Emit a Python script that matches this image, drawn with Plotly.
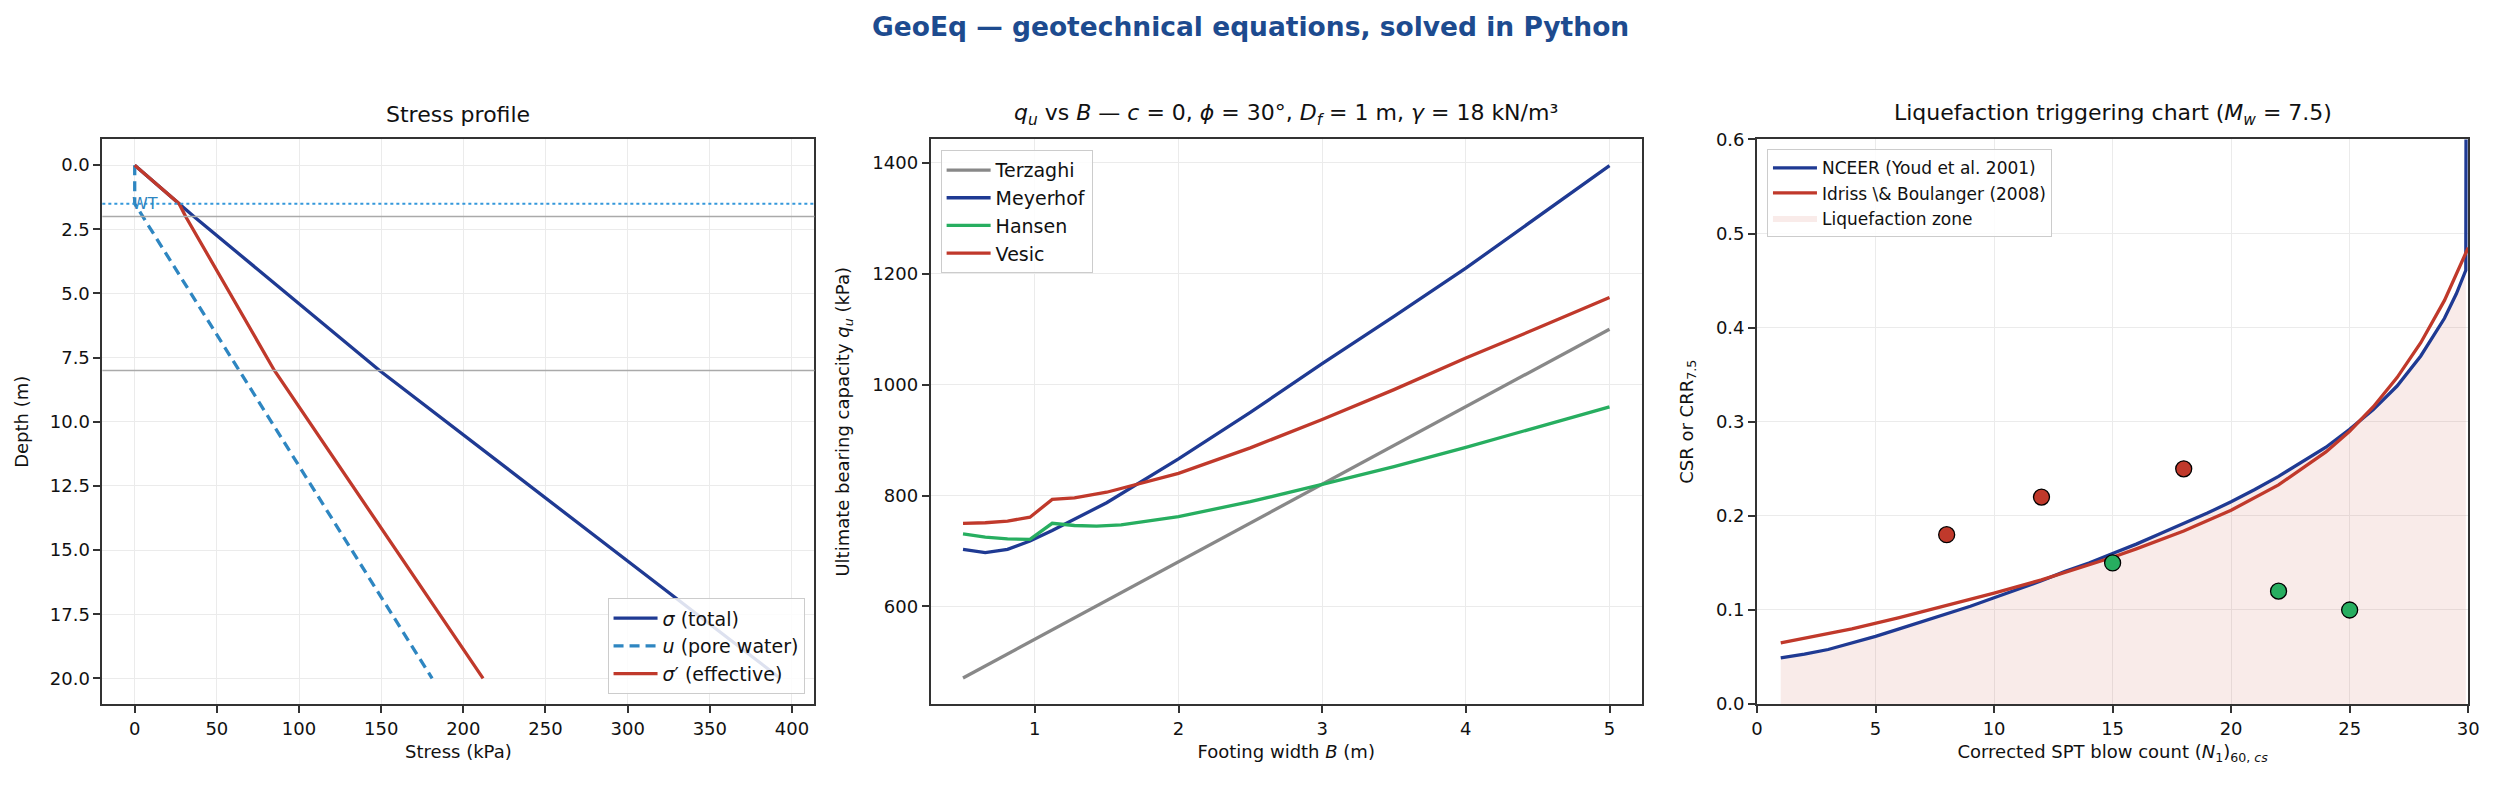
import plotly.graph_objects as go

# ---------------- data ----------------
# Panel 1: stress profile
z_total = [0, 2, 8, 20]
sigma_total = [0, 36, 149, 393]
z_pore = [0, 1.5, 20]
u_pore = [0, 0, 181]
z_eff = [0, 1.5, 2, 8, 20]
sigma_eff = [0, 27, 31, 85, 212]
wt_depth = 1.5
layer_bounds = [2.0, 8.0]

# Panel 2: bearing capacity vs width
B_terz = [0.5, 5.0]
q_terz = [471, 1100]
B_grid = [0.5, 0.655, 0.81, 0.966, 1.121, 1.276, 1.5, 2.0, 2.5, 3.0, 3.5, 4.0, 4.5, 5.0]
q_meyer = [703, 697, 703, 718, 737, 758, 787, 866, 950, 1038, 1123, 1210, 1302, 1395]
q_vesic = [750, 751, 754, 761, 793, 796, 806, 840, 886, 937, 991, 1048, 1102, 1157]
B_hansen = [0.5, 0.655, 0.81, 0.966, 1.121, 1.276, 1.43, 1.6, 2.0, 2.5, 3.0, 3.5, 4.0, 4.5, 5.0]
q_hansen = [731, 725, 722, 721, 750, 746, 745, 747, 762, 789, 820, 852, 887, 923, 960]

# Panel 3: liquefaction triggering
N_nceer = [1, 2, 3, 4, 5, 6, 7, 8, 9, 10, 11, 12, 13, 14, 15, 16, 17, 18, 19, 20,
           21, 22, 23, 24, 25, 26, 27, 28, 29, 29.5, 29.9, 30]
crr_nceer = [0.049, 0.053, 0.058, 0.065, 0.072, 0.080, 0.088, 0.096, 0.104, 0.113,
             0.122, 0.131, 0.141, 0.150, 0.160, 0.170, 0.181, 0.192, 0.203, 0.215,
             0.228, 0.242, 0.257, 0.273, 0.292, 0.313, 0.338, 0.370, 0.410, 0.436,
             0.461, 2.0]
N_ib = [1, 2, 4, 6, 8, 10, 12, 14, 15, 16, 18, 20, 22, 24, 25, 26, 27, 28, 29, 30]
crr_ib = [0.065, 0.070, 0.080, 0.092, 0.105, 0.118, 0.132, 0.148, 0.156, 0.165,
          0.184, 0.206, 0.233, 0.268, 0.290, 0.316, 0.347, 0.384, 0.429, 0.485]
liq_N = [8, 12, 18]
liq_csr = [0.18, 0.22, 0.25]
nonliq_N = [15, 22, 25]
nonliq_csr = [0.15, 0.12, 0.10]

# ---------------- style ----------------
NAVY = "#1f3a93"
RED = "#c0392b"
GREEN = "#27ae60"
GRAY = "#888888"
LBLUE = "#2e86c1"
FONT = "DejaVu Sans"
W, H = 2505, 791
LW = 3.3

def px(x):
    return x / W

def py(y):
    return (H - y) / H

dom_x = [(px(97), px(814)), (px(931), px(1647)), (px(1763), px(2479))]
dom_y = (py(712), py(132))

fig = go.Figure()

# Panel 1
fig.add_trace(go.Scatter(x=sigma_total, y=z_total, mode="lines", name="<i>σ</i> (total)",
                         line=dict(color=NAVY, width=LW), xaxis="x", yaxis="y", legend="legend"))
fig.add_trace(go.Scatter(x=u_pore, y=z_pore, mode="lines", name="<i>u</i> (pore water)",
                         line=dict(color=LBLUE, width=LW, dash="10px,6px"), xaxis="x", yaxis="y", legend="legend"))
fig.add_trace(go.Scatter(x=sigma_eff, y=z_eff, mode="lines", name="<i>σ</i>′ (effective)",
                         line=dict(color=RED, width=LW), xaxis="x", yaxis="y", legend="legend"))

# Panel 2
for name, xs, ys, col in [("Terzaghi", B_terz, q_terz, GRAY),
                          ("Meyerhof", B_grid, q_meyer, NAVY),
                          ("Hansen", B_hansen, q_hansen, GREEN),
                          ("Vesic", B_grid, q_vesic, RED)]:
    fig.add_trace(go.Scatter(x=xs, y=ys, mode="lines", name=name,
                             line=dict(color=col, width=LW), xaxis="x2", yaxis="y2", legend="legend2"))

# Panel 3
fig.add_trace(go.Scatter(x=N_nceer[:-1], y=crr_nceer[:-1], mode="lines", fill="tozeroy",
                         fillcolor="rgba(192,57,43,0.10)", line=dict(width=0, color="rgba(192,57,43,0.15)"),
                         name="Liquefaction zone", xaxis="x3", yaxis="y3", legend="legend3", legendrank=3))
fig.add_trace(go.Scatter(x=N_nceer, y=crr_nceer, mode="lines", name="NCEER (Youd et al. 2001)",
                         line=dict(color=NAVY, width=LW), xaxis="x3", yaxis="y3", legend="legend3", legendrank=1))
fig.add_trace(go.Scatter(x=N_ib, y=crr_ib, mode="lines", name="Idriss \\& Boulanger (2008)",
                         line=dict(color=RED, width=LW), xaxis="x3", yaxis="y3", legend="legend3", legendrank=2))
fig.add_trace(go.Scatter(x=liq_N, y=liq_csr, mode="markers", showlegend=False,
                         marker=dict(color=RED, size=16, line=dict(color="black", width=1.3)),
                         xaxis="x3", yaxis="y3"))
fig.add_trace(go.Scatter(x=nonliq_N, y=nonliq_csr, mode="markers", showlegend=False,
                         marker=dict(color=GREEN, size=16, line=dict(color="black", width=1.3)),
                         xaxis="x3", yaxis="y3"))

# shapes
shapes = [dict(type="line", xref="x domain", yref="y", x0=0, x1=1, y0=wt_depth, y1=wt_depth,
               line=dict(color="#3498db", width=2, dash="dot"), layer="above")]
for lb in layer_bounds:
    shapes.append(dict(type="line", xref="x domain", yref="y", x0=0, x1=1, y0=lb, y1=lb,
                       line=dict(color="#aaaaaa", width=1.4), layer="above"))

axis_common = dict(showline=True, mirror=True, linecolor="#333333", linewidth=1.8,
                   ticks="outside", ticklen=7, tickwidth=1.5, tickcolor="#333333",
                   showgrid=True, gridcolor="#ebebeb", gridwidth=1.3, zeroline=False,
                   tickfont=dict(family=FONT, size=18, color="#111111"),
                   title_font=dict(family=FONT, size=18, color="#111111"))

legend_common = dict(bgcolor="rgba(255,255,255,0.85)", bordercolor="#cccccc", borderwidth=1,
                     font=dict(family=FONT, size=19, color="#111111"), itemwidth=44,
                     tracegroupgap=4)

annotations = [
    dict(text="<b>GeoEq — geotechnical equations, solved in Python</b>", x=0.5, y=py(16),
         xref="paper", yref="paper", showarrow=False, xanchor="center", yanchor="middle",
         font=dict(family=FONT, size=26.5, color="#1d4b8f")),
    dict(text="Stress profile", x=(dom_x[0][0] + dom_x[0][1]) / 2, y=py(106), xref="paper", yref="paper",
         showarrow=False, xanchor="center", yanchor="middle", font=dict(family=FONT, size=22, color="#111111")),
    dict(text="<i>q<sub>u</sub></i> vs <i>B</i> — <i>c</i> = 0, <i>ϕ</i> = 30°, <i>D<sub>f</sub></i> = 1 m, <i>γ</i> = 18 kN/m³",
         x=(dom_x[1][0] + dom_x[1][1]) / 2, y=py(106), xref="paper", yref="paper",
         showarrow=False, xanchor="center", yanchor="middle", font=dict(family=FONT, size=22, color="#111111")),
    dict(text="Liquefaction triggering chart (<i>M<sub>w</sub></i> = 7.5)",
         x=(dom_x[2][0] + dom_x[2][1]) / 2, y=py(106), xref="paper", yref="paper",
         showarrow=False, xanchor="center", yanchor="middle", font=dict(family=FONT, size=22, color="#111111")),
    dict(text="WT", x=-3, y=wt_depth, xref="x", yref="y", showarrow=False, xanchor="left", yanchor="middle",
         font=dict(family=FONT, size=16, color=LBLUE)),
]

fig.update_layout(
    width=W, height=H, margin=dict(l=0, r=0, t=0, b=0),
    paper_bgcolor="white", plot_bgcolor="white",
    font=dict(family=FONT, color="#111111"),
    shapes=shapes, annotations=annotations,
    xaxis=dict(domain=dom_x[0], anchor="y", range=[-19.7, 413.7], dtick=50,
               title=dict(text="Stress (kPa)", standoff=8), **axis_common),
    yaxis=dict(domain=dom_y, anchor="x", range=[21, -1], tick0=0, dtick=2.5, tickformat=".1f",
               title=dict(text="Depth (m)", standoff=16), **axis_common),
    xaxis2=dict(domain=dom_x[1], anchor="y2", range=[0.275, 5.225], tick0=1, dtick=1,
                title=dict(text="Footing width <i>B</i> (m)", standoff=8), **axis_common),
    yaxis2=dict(domain=dom_y, anchor="x2", range=[424, 1442], tick0=600, dtick=200,
                title=dict(text="Ultimate bearing capacity <i>q<sub>u</sub></i> (kPa)", standoff=18), **axis_common),
    xaxis3=dict(domain=dom_x[2], anchor="y3", range=[0, 30], dtick=5,
                title=dict(text="Corrected SPT blow count (<i>N</i><sub>1</sub>)<sub>60, <i>cs</i></sub>", standoff=8),
                **axis_common),
    yaxis3=dict(domain=dom_y, anchor="x3", range=[0, 0.6], dtick=0.1, tickformat=".1f",
                title=dict(text="CSR or CRR<sub>7.5</sub>", standoff=18), **axis_common),
    legend=dict(x=px(804), y=py(702), xanchor="right", yanchor="bottom", **legend_common),
    legend2=dict(x=px(941), y=py(143), xanchor="left", yanchor="top", **legend_common),
    legend3=dict(x=px(1773), y=py(142), xanchor="left", yanchor="top",
                 **{**legend_common, "font": dict(family=FONT, size=17, color="#111111"), "tracegroupgap": 2}),
)

fig.write_html("out.html")
